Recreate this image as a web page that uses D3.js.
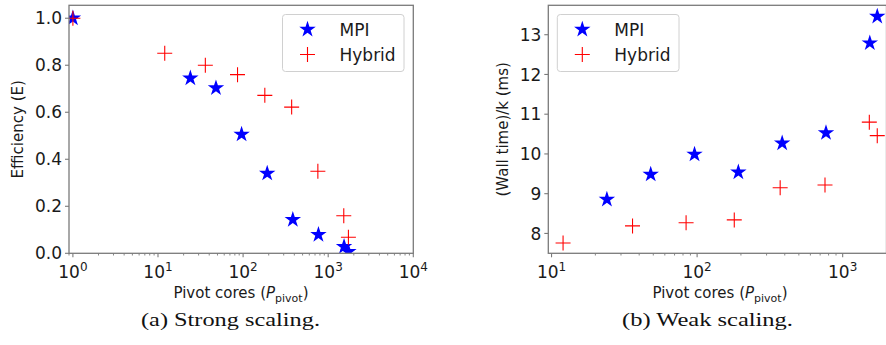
<!DOCTYPE html>
<html><head><meta charset="utf-8">
<script src="https://cdn.jsdelivr.net/npm/d3@7"></script>
<style>body{margin:0;background:#fff}svg{display:block}</style>
</head><body><svg id="c" width="886" height="345"></svg>
<script>
// ---- data ----
const strongMpiX = [1, 24, 48, 96, 192, 384, 768, 1536, 1728];
const strongMpiE = [1.0, 0.745, 0.703, 0.506, 0.34, 0.143, 0.079, 0.028, 0.007];
const strongHybX = [1, 12, 36, 86, 180, 372, 756, 1524, 1728];
const strongHybE = [1.0, 0.851, 0.80, 0.76, 0.672, 0.622, 0.349, 0.16, 0.068];
const weakMpiX = [24, 48, 96, 192, 384, 768, 1536, 1728];
const weakMpiT = [8.856, 9.486, 9.99, 9.54, 10.27, 10.53, 12.79, 13.46];
const weakHybX = [12, 36, 84, 180, 372, 756, 1524, 1728];
const weakHybT = [7.76, 8.19, 8.27, 8.34, 9.15, 9.22, 10.80, 10.46];
const strongYTicks = [0, 0.2, 0.4, 0.6, 0.8, 1.0];
const weakYTicks = [8, 9, 10, 11, 12, 13];
const strongXTicks = [1, 10, 100, 1000, 10000];
const weakXTicks = [10, 100, 1000];
const seriesNames = ["MPI", "Hybrid"];

const svg = d3.select("#c");
const SP = "#7a7a7a", TXT = "#1a1a1a";
const FONT = "DejaVu Sans";

function panel(o) {
  const x = d3.scaleLog().domain(o.xd).range([o.l, o.r]);
  const y = d3.scaleLinear().domain(o.yd).range([o.b, o.t]);
  const g = svg.append("g");
  const minors = [];
  for (let e = -1; e < 5; e++) for (let m = 2; m < 10; m++) {
    const v = m * Math.pow(10, e);
    if (v >= o.xd[0] && v <= o.xd[1]) minors.push(v);
  }
  g.selectAll(".mn").data(minors).join("line")
    .attr("x1", d => x(d)).attr("x2", d => x(d)).attr("y1", o.b).attr("y2", o.b + 2.2)
    .attr("stroke", SP).attr("stroke-width", 0.9);
  g.selectAll(".mx").data(o.xt).join("line")
    .attr("x1", d => x(d)).attr("x2", d => x(d)).attr("y1", o.b).attr("y2", o.b + 4)
    .attr("stroke", SP).attr("stroke-width", 1.1);
  const xl = g.selectAll(".xl").data(o.xt).join("text")
    .attr("x", d => x(d)).attr("y", o.b + 25).attr("text-anchor", "middle")
    .attr("font-family", FONT).attr("font-size", 17).attr("fill", TXT);
  xl.append("tspan").text("10");
  xl.append("tspan").attr("dy", -7).attr("font-size", 12).text(d => Math.round(Math.log10(d)));
  g.selectAll(".my").data(o.yt).join("line")
    .attr("x1", o.l - 4).attr("x2", o.l).attr("y1", d => y(d)).attr("y2", d => y(d))
    .attr("stroke", SP).attr("stroke-width", 1.1);
  g.selectAll(".yl").data(o.yt).join("text")
    .attr("x", o.l - 7).attr("y", d => y(d)).attr("dy", "0.36em").attr("text-anchor", "end")
    .attr("font-family", FONT).attr("font-size", 17).attr("fill", TXT).text(o.yf);
  const cid = "clip" + o.id;
  svg.append("clipPath").attr("id", cid).append("rect")
    .attr("x", o.l).attr("y", o.t).attr("width", o.r - o.l).attr("height", o.b - o.t);
  const pg = g.append("g").attr("clip-path", `url(#${cid})`);
  const star = d3.symbol(d3.symbolStar, 84)();
  pg.selectAll(".st").data(o.mx.map((v, i) => [v, o.my[i]])).join("path")
    .attr("d", star).attr("transform", d => `translate(${x(d[0])},${y(d[1])})`)
    .attr("fill", "#0000ff");
  const h = 7.5;
  const plus = `M${-h},0H${h}M0,${-h}V${h}`;
  pg.selectAll(".pl").data(o.hx.map((v, i) => [v, o.hy[i]])).join("path")
    .attr("d", plus).attr("transform", d => `translate(${x(d[0])},${y(d[1])})`)
    .attr("stroke", "#ff0000").attr("stroke-width", 1.1).attr("fill", "none");
  g.append("rect").attr("x", o.l).attr("y", o.t).attr("width", o.r - o.l).attr("height", o.b - o.t)
    .attr("fill", "none").attr("stroke", SP).attr("stroke-width", 1.3);
  const L = o.leg;
  g.append("rect").attr("x", L.x).attr("y", L.y).attr("width", L.w).attr("height", L.h).attr("rx", 3)
    .attr("fill", "#fff").attr("fill-opacity", 0.8).attr("stroke", "#d0d0d0").attr("stroke-width", 1);
  g.append("path").attr("d", star).attr("transform", `translate(${L.x + 25},${L.y + 15})`).attr("fill", "#0000ff");
  g.append("path").attr("d", plus).attr("transform", `translate(${L.x + 25},${L.y + 40})`)
    .attr("stroke", "#ff0000").attr("stroke-width", 1.1).attr("fill", "none");
  seriesNames.forEach((s, i) => g.append("text").attr("x", L.x + 57).attr("y", L.y + 15 + 25 * i).attr("dy", "0.36em")
    .attr("font-family", FONT).attr("font-size", 17).attr("fill", TXT).text(s));
  g.append("text").attr("transform", `translate(${o.ylx},${(o.t + o.b) / 2}) rotate(-90)`)
    .attr("text-anchor", "middle").attr("dy", "0.36em")
    .attr("font-family", FONT).attr("font-size", 15).attr("fill", TXT).text(o.ylab);
  const xt = g.append("text").attr("x", o.xlc).attr("y", 298).attr("text-anchor", "middle")
    .attr("font-family", FONT).attr("font-size", 15).attr("fill", TXT);
  xt.append("tspan").text("Pivot cores (");
  xt.append("tspan").attr("font-style", "italic").text("P");
  xt.append("tspan").attr("dy", 3.5).attr("font-size", 11).text("pivot");
  xt.append("tspan").attr("dy", -3.5).text(")");
  g.append("text").attr("x", o.cap.x).attr("y", 326).attr("text-anchor", "middle")
    .attr("font-family", "Liberation Serif").attr("font-size", 19).attr("fill", "#111")
    .attr("textLength", o.cap.w).attr("lengthAdjust", "spacingAndGlyphs").text(o.cap.t);
}

panel({id: "a", l: 69, r: 413.3, t: 5.3, b: 253.3, xd: [0.9, 1e4], yd: [0, 1.055],
  xt: strongXTicks, yt: strongYTicks, yf: d3.format(".1f"),
  mx: strongMpiX, my: strongMpiE, hx: strongHybX, hy: strongHybE,
  leg: {x: 282.5, y: 14.5, w: 121.5, h: 57}, ylx: 18, ylab: "Efficiency (E)", xlc: 241,
  cap: {x: 230.5, w: 179, t: "(a) Strong scaling."}});
panel({id: "b", l: 548.3, r: 886.5, t: 5.3, b: 253.3, xd: [9.5, 2000], yd: [7.5, 13.74],
  xt: weakXTicks, yt: weakYTicks, yf: d3.format("d"),
  mx: weakMpiX, my: weakMpiT, hx: weakHybX, hy: weakHybT,
  leg: {x: 557.3, y: 14.5, w: 121.7, h: 57}, ylx: 503, ylab: "(Wall time)/k (ms)", xlc: 720,
  cap: {x: 707.5, w: 171, t: "(b) Weak scaling."}});
</script></body></html>
